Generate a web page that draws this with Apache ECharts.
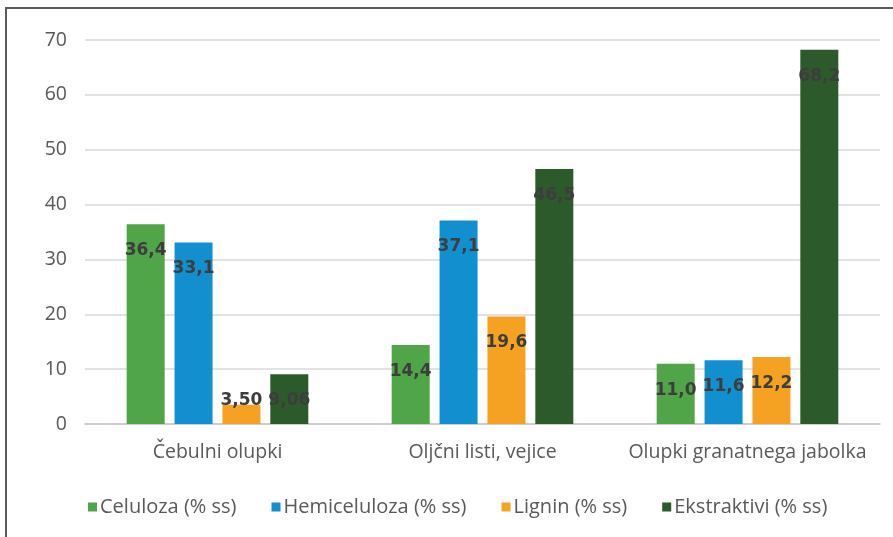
<!DOCTYPE html>
<html>
<head>
<meta charset="utf-8">
<script src="https://cdn.jsdelivr.net/npm/echarts@6/dist/echarts.min.js"></script>
<style>html,body{margin:0;padding:0;background:#fff;}#c{width:893px;height:537px;}</style>
</head>
<body>
<div id="c"></div>
<script>
const categories = ['Čebulni olupki', 'Oljčni listi, vejice', 'Olupki granatnega jabolka'];
const seriesNames = ['Celuloza (% ss)', 'Hemiceluloza (% ss)', 'Lignin (% ss)', 'Ekstraktivi (% ss)'];
const celuloza = [36.4, 14.4, 11.0];
const hemiceluloza = [33.1, 37.1, 11.6];
const lignin = [3.50, 19.6, 12.2];
const ekstraktivi = [9.06, 46.5, 68.2];
const celulozaLabels = ['36,4', '14,4', '11,0'];
const hemicelulozaLabels = ['33,1', '37,1', '11,6'];
const ligninLabels = ['3,50', '19,6', '12,2'];
const ekstraktiviLabels = ['9,06', '46,5', '68,2'];
const yTicks = [0, 10, 20, 30, 40, 50, 60, 70];

const colors = ['#4FA547', '#128FCF', '#F5A223', '#2D5A2B'];
const values = [celuloza, hemiceluloza, lignin, ekstraktivi];
const labels = [celulozaLabels, hemicelulozaLabels, ligninLabels, ekstraktiviLabels];

const axisFont = '"Open Sans", Lato, sans-serif';

const series = values.map((vals, si) => ({
  name: seriesNames[si],
  type: 'bar',
  barWidth: 38,
  barGap: '26%',
  itemStyle: { color: colors[si] },
  label: {
    show: true,
    position: 'insideTop',
    distance: 18,
    color: '#3d3d3d',
    fontFamily: '"DejaVu Sans", Verdana, sans-serif',
    fontWeight: 'bold',
    fontSize: 17,
    formatter: p => labels[si][p.dataIndex]
  },
  data: vals.map(v => {
    // very short bar: label sits near the base
    if (v < 5) {
      return { value: v, label: { position: 'insideBottom', distance: 15 } };
    }
    return v;
  })
}));

const chart = echarts.init(document.getElementById('c'), null, { renderer: 'canvas' });
chart.setOption({
  animation: false,
  backgroundColor: '#fff',
  graphic: [{
    type: 'rect',
    shape: { x: 6, y: 8, width: 1000, height: 1000 },
    style: { fill: 'none', stroke: '#5a5a5a', lineWidth: 2 },
    silent: true
  }],
  grid: { left: 85, right: 13, top: 40, bottom: 113, containLabel: false },
  legend: {
    data: seriesNames,
    left: 83,
    top: 492,
    itemWidth: 9,
    itemHeight: 9,
    itemGap: 35,
    icon: 'rect',
    textStyle: { color: '#595959', fontSize: 20, fontFamily: axisFont, padding: [0, 0, 0, -2] }
  },
  xAxis: {
    type: 'category',
    data: categories,
    axisLine: { lineStyle: { color: '#c8c8c8', width: 1.5 } },
    axisTick: { show: false },
    axisLabel: { color: '#595959', fontSize: 19.5, fontFamily: axisFont, margin: 18, interval: 0 }
  },
  yAxis: {
    type: 'value',
    min: yTicks[0],
    max: yTicks[yTicks.length - 1],
    interval: 10,
    axisLine: { show: false },
    axisTick: { show: false },
    splitLine: { lineStyle: { color: '#d9d9d9', width: 1.5 } },
    axisLabel: { color: '#595959', fontSize: 19.5, fontFamily: axisFont, margin: 18 }
  },
  series: series
});
</script>
</body>
</html>
